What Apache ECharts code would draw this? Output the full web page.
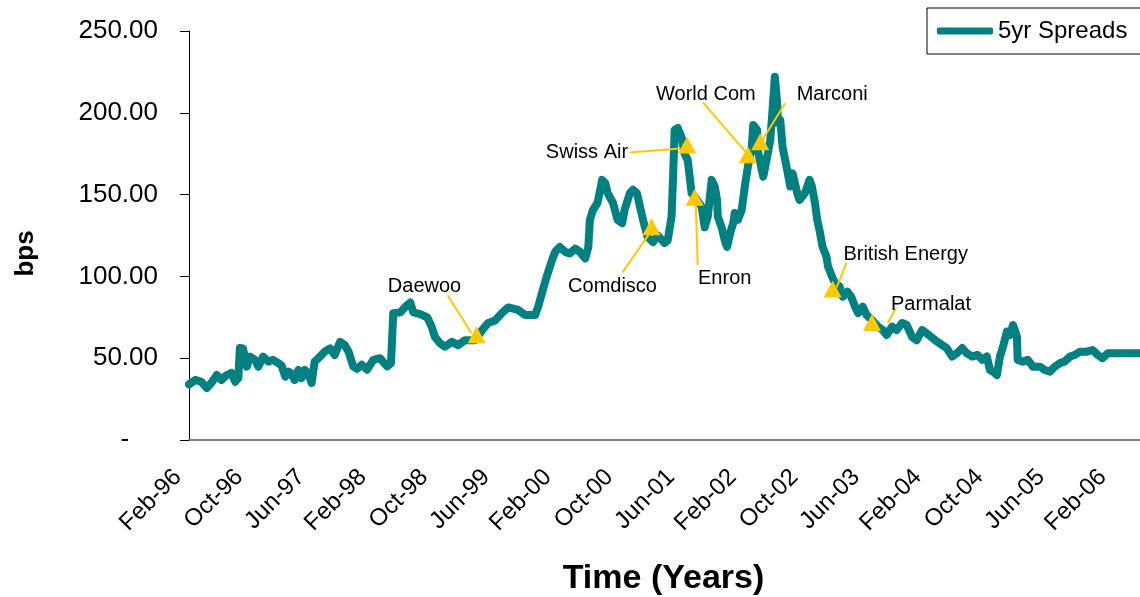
<!DOCTYPE html>
<html>
<head>
<meta charset="utf-8">
<script src="https://cdn.jsdelivr.net/npm/echarts@6/dist/echarts.min.js"></script>
<style>
  html, body { margin: 0; padding: 0; background: #fff; }
  #chart { width: 1140px; height: 597px; }
</style>
</head>
<body>
<div id="chart"></div>
<script>
// x values are months counted from Feb-96
const tickLabels = ['Feb-96', 'Oct-96', 'Jun-97', 'Feb-98', 'Oct-98', 'Jun-99', 'Feb-00', 'Oct-00',
  'Jun-01', 'Feb-02', 'Oct-02', 'Jun-03', 'Feb-04', 'Oct-04', 'Jun-05', 'Feb-06'];

const months = [
  0, 0.8, 1.6, 2.3, 2.9, 3.6, 4.2, 4.9, 5.5, 6.0, 6.4, 6.6, 7.0, 7.5, 7.9, 8.6, 9.0, 9.6, 10.3, 10.9,
  11.6, 12.0, 12.5, 12.9, 13.3, 13.7, 14.2, 14.6, 15.0, 15.5, 15.9, 16.3, 17.0, 17.6, 18.3, 18.9, 19.6, 20.2, 20.7,
  21.3, 21.8, 22.4, 23.1, 23.9, 24.8, 25.3, 25.7, 26.2, 26.5, 27.4, 28.3, 28.7, 29.1, 30.0, 30.9, 31.5, 31.9, 32.6, 33.2,
  34.1, 34.9, 35.8, 37.1, 38.0, 38.8, 39.7, 40.6, 41.4, 42.7, 43.6, 44.9, 45.3, 45.9, 46.4, 47.1, 47.5, 48.1, 48.8, 49.4,
  50.1, 50.7, 51.4, 51.8, 52.0, 52.4, 53.0, 53.6, 54.0, 54.3, 55.0, 55.6, 56.2, 56.5, 57.2, 57.6, 58.1, 58.5, 58.9, 59.5,
  60.2, 60.8, 61.7, 62.1, 62.6, 62.8, 63.0, 63.4, 63.9, 64.3, 64.7, 65.0, 65.2, 65.9, 66.5, 66.9, 67.3, 67.8, 68.2, 68.5,
  68.6, 69.1, 69.5, 69.8, 70.2, 70.6, 70.8, 71.2, 71.7, 72.1, 72.5, 73.0, 73.2, 73.7, 73.8, 74.3, 74.5, 75.0, 75.4, 75.7,
  76.0, 76.3, 76.4, 76.7, 77.0, 77.6, 78.0, 78.3, 78.9, 79.2, 79.9, 80.5, 80.8, 81.2, 81.5, 81.8, 82.2, 82.7, 82.9, 83.4,
  83.8, 84.4, 84.8, 85.4, 85.9, 86.4, 86.8, 87.4, 87.9, 88.6, 89.4, 90.0, 90.5, 91.2, 91.8, 92.5, 93.1, 93.8, 94.4, 95.1,
  95.7, 96.8, 97.7, 98.3, 99.0, 99.6, 100.3, 100.9, 101.6, 102.3, 102.9, 103.5, 103.9, 104.3, 104.8, 105.2, 105.6, 106.1, 106.5, 106.9,
  107.4, 107.5, 108.2, 108.8, 109.5, 110.4, 111.0, 111.7, 112.3, 113.0, 113.6, 114.3, 114.9, 115.6, 116.5, 117.2, 117.9, 118.5, 119.2, 123.3,
  127
];

const spreads = [
  34, 36.7, 35.6, 31.8, 34.8, 39.7, 36.7, 39.7, 41, 35.6, 37.9, 56.2, 56, 44.8, 51, 48.9, 44.8, 51, 47.9, 49,
  47, 45.5, 38.7, 41.8, 40.5, 36.7, 42.8, 37.9, 42.8, 40.5, 34.8, 47.9, 51, 54, 56, 52, 60, 58, 54,
  45, 43.5, 46, 43, 49, 50, 47, 45, 47, 77.5, 78, 82.5, 84, 78, 77, 75, 69, 63, 59, 57,
  60, 58, 61, 61, 67, 71.5, 73, 77.6, 81, 79.5, 76.4, 76.4, 81.5, 91.7, 99.8, 110, 115, 118, 115, 114,
  117, 115, 111, 118, 134.5, 140.6, 145, 159, 157, 151, 145, 134.5, 132.6, 140.6, 151, 153, 151, 142.6, 134.5, 124,
  121, 125, 120.4, 122, 136.5, 161, 189.5, 190.7, 185, 175, 171, 159, 151, 146.7, 142.6, 130, 136.5, 159, 155, 146.7,
  136.5, 130, 122, 118, 126.5, 132.6, 138.8, 134.5, 140.6, 155, 167, 179, 192.5, 189.5, 177, 165, 161, 173, 183, 201.7,
  222, 206, 193.7, 195.6, 179, 165, 155, 163, 151, 146.7, 151, 159, 155, 145, 134.5, 128, 118, 112, 106, 100,
  96, 93.7, 87.6, 90.6, 87.6, 81.5, 77.6, 81.5, 76.4, 73.3, 69.3, 67.2, 64.2, 69.3, 67.2, 71.5, 70.3, 63, 61, 67.2,
  65.2, 61, 58, 56.2, 51, 53, 56.2, 53, 51, 52, 49, 51, 42.8, 41.8, 39.7, 51, 57, 66.2, 64.2, 70.3,
  63.2, 49, 47.9, 49, 44.8, 44.8, 42.8, 41.8, 44.8, 47, 48, 51, 52, 54, 54, 55, 52, 50, 53, 53,
  53
];

// credit events
const eventNames = ['Daewoo', 'Comdisco', 'Swiss Air', 'Enron', 'World Com', 'Marconi', 'British Energy', 'Parmalat'];
const eventMonths = [37.3, 60.0, 64.6, 65.6, 72.5, 74.1, 83.5, 88.6];
const eventSpreads = [64, 130, 180, 148, 174, 182, 92, 71.5];

// callout layout, in pixels relative to the marker: label centre, leader start, leader end
const callouts = {
  'Daewoo':         { text: [-52, -49], from: [-29, -40], to: [-5, -2] },
  'Comdisco':       { text: [-39, 59],  from: [-29, 45],  to: [-2, 6] },
  'Swiss Air':      { text: [-100, 7],  from: [-57, 7],   to: [-7, 3] },
  'Enron':          { text: [30, 81],   from: [3, 67],    to: [1, 2] },
  'World Com':      { text: [-42, -61], from: [-45, -53], to: [-1, -2] },
  'Marconi':        { text: [72, -48],  from: [25, -39],  to: [2, -2] },
  'British Energy': { text: [73, -35],  from: [14, -27],  to: [4, -2] },
  'Parmalat':       { text: [59, -19],  from: [24, -15],  to: [16, 0] }
};

const FONT = '"Liberation Sans", Arial, sans-serif';
const TEAL = '#008080';
const GOLD = '#FFC800';

const chart = echarts.init(document.getElementById('chart'));

chart.setOption({
  animation: false,
  backgroundColor: '#fff',
  grid: { left: 189, top: 31, width: 979, height: 409, outerBoundsMode: 'none', containLabel: false },
  legend: {
    data: ['5yr Spreads'],
    left: 927,
    top: 8,
    padding: [11, 60, 11, 10],
    borderColor: '#000',
    borderWidth: 1,
    icon: 'roundRect',
    itemWidth: 56,
    itemHeight: 7,
    textStyle: { fontSize: 24, color: '#000', fontFamily: FONT }
  },
  xAxis: {
    type: 'value',
    min: 0,
    max: 127,
    interval: 8,
    name: 'Time (Years)',
    nameLocation: 'middle',
    nameGap: 122,
    nameTextStyle: { fontSize: 34, fontWeight: 'bold', color: '#000', fontFamily: FONT, padding: [0, 30, 0, 0] },
    splitLine: { show: false },
    axisLine: { lineStyle: { color: '#808080', width: 2 } },
    axisTick: { show: false },
    axisLabel: {
      rotate: 45,
      margin: 22,
      padding: [0, 16, 0, 0],
      fontSize: 24,
      color: '#000',
      fontFamily: FONT,
      showMaxLabel: false,
      formatter: (v) => (v % 8 === 0 && tickLabels[v / 8]) ? tickLabels[v / 8] : ''
    }
  },
  yAxis: {
    type: 'value',
    min: 0,
    max: 250,
    interval: 50,
    name: 'bps',
    nameLocation: 'middle',
    nameGap: 150,
    nameRotate: 90,
    nameTextStyle: { fontSize: 26, fontWeight: 'bold', color: '#000', fontFamily: FONT, padding: [0, 36, 0, 0] },
    splitLine: { show: false },
    axisLine: { show: true, lineStyle: { color: '#000', width: 1 } },
    axisTick: { show: true, length: 9, lineStyle: { color: '#000' } },
    axisLabel: {
      margin: 31,
      fontSize: 26,
      color: '#000',
      fontFamily: FONT,
      formatter: (v) => v === 0 ? '-    ' : v.toFixed(2)
    }
  },
  series: [
    {
      name: '5yr Spreads',
      type: 'line',
      symbol: 'none',
      color: TEAL,
      lineStyle: { color: TEAL, width: 8, cap: 'round', join: 'round' },
      data: months.map((m, i) => [m, spreads[i]]),
      z: 2
    },
    {
      name: 'events',
      type: 'custom',
      clip: false,
      z: 5,
      data: eventNames.map((n, i) => [eventMonths[i], eventSpreads[i]]),
      renderItem: (params, api) => {
        const c = api.coord([api.value(0), api.value(1)]);
        const name = eventNames[params.dataIndex];
        const o = callouts[name];
        return {
          type: 'group',
          children: [
            {
              type: 'line',
              shape: { x1: c[0] + o.from[0], y1: c[1] + o.from[1], x2: c[0] + o.to[0], y2: c[1] + o.to[1] },
              style: { stroke: GOLD, lineWidth: 2 }
            },
            {
              type: 'polygon',
              shape: { points: [[c[0], c[1] - 9], [c[0] - 9, c[1] + 8], [c[0] + 9, c[1] + 8]] },
              style: { fill: GOLD }
            },
            {
              type: 'text',
              x: c[0] + o.text[0],
              y: c[1] + o.text[1],
              style: {
                text: name,
                fill: '#000',
                font: '20px ' + FONT,
                align: 'center',
                verticalAlign: 'middle'
              }
            }
          ]
        };
      }
    }
  ]
});
</script>
</body>
</html>
